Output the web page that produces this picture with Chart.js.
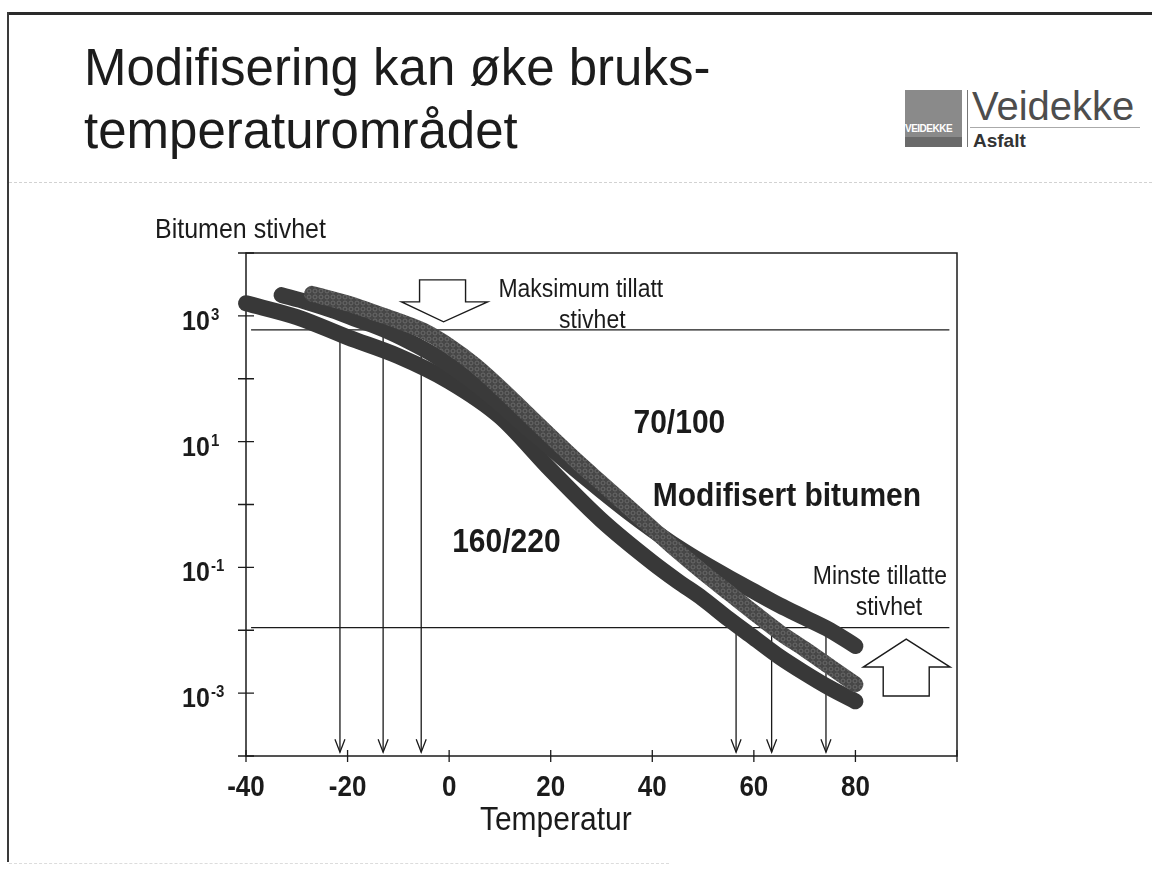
<!DOCTYPE html>
<html>
<head>
<meta charset="utf-8">
<script src="https://cdn.jsdelivr.net/npm/chart.js@4.4.1/dist/chart.umd.min.js"></script>
<style>
  html, body { margin: 0; padding: 0; background: #fff; }
  body { width: 1152px; height: 875px; position: relative; overflow: hidden;
         font-family: "Liberation Sans", Arial, sans-serif; }
  #frameTop  { position: absolute; left: 7px; top: 12px; width: 1145px; height: 3px; background: #2a2a2a; }
  #frameLeft { position: absolute; left: 7px; top: 12px; width: 2px; height: 850px; background: #3a3a3a; }
  #sep       { position: absolute; left: 9px; top: 182px; width: 1143px; border-top: 1px dashed #d2d2d2; }
  #foot      { position: absolute; left: 9px; top: 863px; width: 660px; border-top: 1px dashed #dcdcdc; }
  #title     { position: absolute; left: 84px; top: 36px; font-size: 51px; line-height: 63px; color: #1c1c1c; }
  #logoBlock { position: absolute; left: 905px; top: 90px; width: 57px; height: 57px; background: #8a8a8a; overflow: hidden; }
  #logoBlock .word  { position: absolute; left: 0; top: 33px; width: 57px; font: bold 10px "Liberation Sans Narrow", "Liberation Sans", sans-serif; color: #fff; letter-spacing: -0.5px; }
  #logoBlock .strip { position: absolute; left: 0; top: 47px; width: 57px; height: 10px; background: #6a6a6a; }
  #logoBar   { position: absolute; left: 967px; top: 90px; width: 1px; height: 57px; background: #777; }
  #logoName  { position: absolute; left: 972px; top: 82px; font-size: 40px; line-height: 48px; color: #4d4d4d; }
  #logoRule  { position: absolute; left: 970px; top: 127px; width: 170px; height: 1px; background: #aaa; }
  #logoSub   { position: absolute; left: 973px; top: 130px; font-size: 19px; font-weight: bold; line-height: 22px; color: #333; }
  #chart     { position: absolute; left: 0; top: 0; }
</style>
</head>
<body>
<div id="frameTop"></div>
<div id="frameLeft"></div>
<div id="sep"></div>
<div id="foot"></div>
<div id="title">Modifisering kan øke bruks-<br>temperaturområdet</div>
<div id="logoBlock"><div class="word">VEIDEKKE</div><div class="strip"></div></div>
<div id="logoBar"></div>
<div id="logoName">Veidekke</div>
<div id="logoRule"></div>
<div id="logoSub">Asfalt</div>
<canvas id="chart" width="1152" height="875"></canvas>

<script>
'use strict';

// 160/220 (log10 av stivhet)
const temp160 = [-40, -30, -20, -10, 0, 10, 20, 30, 40, 45, 50, 55, 60, 65, 70, 75, 80];
const log160  = [3.20, 2.98, 2.66, 2.36, 1.96, 1.40, 0.55, -0.25, -0.92, -1.22, -1.50, -1.82, -2.12, -2.42, -2.68, -2.92, -3.13];

// Modifisert bitumen
const tempMod = [-33, -28, -23, -18, -13, -8, -3, 0, 5, 10, 15, 20, 25, 30, 35, 40, 45, 50, 55, 60, 65, 70, 75, 80];
const logMod  = [3.33, 3.22, 3.09, 2.94, 2.79, 2.60, 2.38, 2.22, 1.93, 1.60, 1.24, 0.90, 0.55, 0.22, -0.10, -0.40, -0.68, -0.93, -1.16, -1.38, -1.60, -1.80, -2.00, -2.25];

// 70/100
const temp70 = [-27, -20, -15, -10, -5, 0, 5, 10, 15, 20, 25, 30, 35, 40, 45, 50, 55, 60, 65, 70, 75, 80];
const log70  = [3.35, 3.20, 3.06, 2.92, 2.76, 2.52, 2.22, 1.86, 1.47, 1.08, 0.70, 0.34, -0.02, -0.38, -0.74, -1.08, -1.40, -1.72, -2.03, -2.30, -2.58, -2.86];

// grenser
const maxStiff  = 600;
const minStiff  = 0.011;
const limitSpan = [-39, 98.5];
const arrowEnd  = 1.15e-4;
const maxArrowTemps = [-21.5, -13, -5.5];
const minArrowTemps = [56.5, 63.5, 74.2];

// akser
const xTicks  = [-40, -20, 0, 20, 40, 60, 80, 100];
const xLabels = [-40, -20, 0, 20, 40, 60, 80];
const yTickExp  = [-4, -3, -2, -1, 0, 1, 2, 3, 4];
const yLabelExp = [3, 1, -1, -3];

const INK = '#1b1b1b';
const STRETCH = 1.1;   // skannet tekst er litt høyere enn vanlig

// tekstur for 70/100-kurven
function ringPattern() {
  const c = document.createElement('canvas');
  c.width = 6; c.height = 6;
  const g = c.getContext('2d');
  g.fillStyle = '#474747';
  g.fillRect(0, 0, 6, 6);
  g.strokeStyle = '#6a6a6a';
  g.lineWidth = 1;
  g.beginPath();
  g.arc(3, 3, 2, 0, Math.PI * 2);
  g.stroke();
  return g.createPattern(c, 'repeat');
}

function curve(label, temps, logs, color, order) {
  return {
    label,
    data: temps.map((t, i) => ({ x: t, y: 10 ** logs[i] })),
    borderColor: color,
    borderWidth: 16,
    borderCapStyle: 'round',
    borderJoinStyle: 'round',
    pointRadius: 0,
    cubicInterpolationMode: 'monotone',
    clip: false,
    order
  };
}

function thin(label, pts) {
  return {
    label,
    data: pts,
    borderColor: INK,
    borderWidth: 1.3,
    pointRadius: 0,
    tension: 0,
    clip: false,
    order: 10
  };
}

const datasets = [
  curve('70/100', temp70, log70, ringPattern(), 0),
  curve('Modifisert bitumen', tempMod, logMod, '#3a3a3a', 1),
  curve('160/220', temp160, log160, '#383838', 2),
  thin('Maksimum tillatt stivhet', limitSpan.map(t => ({ x: t, y: maxStiff }))),
  thin('Minste tillatte stivhet', limitSpan.map(t => ({ x: t, y: minStiff }))),
  ...maxArrowTemps.map(t => thin('pil', [{ x: t, y: maxStiff }, { x: t, y: arrowEnd }])),
  ...minArrowTemps.map(t => thin('pil', [{ x: t, y: minStiff }, { x: t, y: arrowEnd }]))
];

function text(ctx, str, x, y, font, align) {
  ctx.save();
  ctx.font = font;
  ctx.textAlign = align || 'left';
  ctx.textBaseline = 'alphabetic';
  ctx.translate(x, y);
  ctx.scale(1, STRETCH);
  ctx.fillText(str, 0, 0);
  ctx.restore();
}

function poly(ctx, pts) {
  ctx.beginPath();
  pts.forEach((p, i) => i ? ctx.lineTo(p[0], p[1]) : ctx.moveTo(p[0], p[1]));
  ctx.closePath();
  ctx.fillStyle = '#fff';
  ctx.fill();
  ctx.stroke();
}

const decor = {
  id: 'decor',
  beforeDatasetsDraw(chart) {
    const { ctx, chartArea: a, scales: { x, y } } = chart;
    const px = v => x.getPixelForValue(v);
    const py = e => y.getPixelForValue(10 ** e);
    ctx.save();
    ctx.strokeStyle = INK;
    ctx.fillStyle = INK;

    // ramme
    ctx.lineWidth = 1.5;
    ctx.strokeRect(a.left, a.top, a.right - a.left, a.bottom - a.top);

    // tick-merker
    ctx.lineWidth = 1.3;
    ctx.beginPath();
    yTickExp.forEach(e => { ctx.moveTo(a.left - 8, py(e)); ctx.lineTo(a.left + 8, py(e)); });
    xTicks.forEach(t => { ctx.moveTo(px(t), a.bottom - 6); ctx.lineTo(px(t), a.bottom + 6); });
    ctx.stroke();

    // tick-tekst
    xLabels.forEach(t => text(ctx, String(t), px(t), a.bottom + 40, 'bold 26px "Liberation Sans", Arial', 'center'));
    yLabelExp.forEach(e => {
      text(ctx, '10', a.left - 64, py(e) + 14, 'bold 25px "Liberation Sans", Arial');
      text(ctx, String(e), a.left - 35, py(e) + 4, 'bold 15px "Liberation Sans", Arial');
    });

    // aksetitler
    text(ctx, 'Bitumen stivhet', a.left - 91, a.top - 15, '25px "Liberation Sans", Arial');
    text(ctx, 'Temperatur', px(21), a.bottom + 74, '30px "Liberation Sans", Arial', 'center');

    // merkelapper
    const reg = '23px "Liberation Sans", Arial';
    const bold = 'bold 30px "Liberation Sans", Arial';
    text(ctx, 'Maksimum tillatt', px(9.7), py(3.30), reg);
    text(ctx, 'stivhet', px(28.2), py(2.81), reg, 'center');
    text(ctx, '70/100', px(36.3), py(1.14), bold);
    text(ctx, 'Modifisert bitumen', px(40.1), py(-0.03), bold);
    text(ctx, '160/220', px(0.6), py(-0.75), bold);
    text(ctx, 'Minste tillatte', px(71.6), py(-1.27), reg);
    text(ctx, 'stivhet', px(86.6), py(-1.75), reg, 'center');

    // store hule piler
    ctx.lineWidth = 1.4;
    const dx = px(-1.1), dTip = py(2.905);
    poly(ctx, [[dx - 24, dTip - 42], [dx + 22, dTip - 42], [dx + 22, dTip - 20], [dx + 44, dTip - 20],
               [dx, dTip], [dx - 42, dTip - 20], [dx - 24, dTip - 20]]);
    const ux = px(90), uTip = py(-2.14);
    poly(ctx, [[ux - 23, uTip + 57], [ux + 23, uTip + 57], [ux + 23, uTip + 28], [ux + 44, uTip + 28],
               [ux, uTip], [ux - 43, uTip + 28], [ux - 23, uTip + 28]]);
    ctx.restore();
  },
  afterDatasetsDraw(chart) {
    const { ctx, scales: { x, y } } = chart;
    const tipY = y.getPixelForValue(arrowEnd);
    ctx.save();
    ctx.strokeStyle = INK;
    ctx.lineWidth = 1.3;
    ctx.beginPath();
    [...maxArrowTemps, ...minArrowTemps].forEach(t => {
      const p = x.getPixelForValue(t);
      ctx.moveTo(p - 5, tipY - 13);
      ctx.lineTo(p, tipY);
      ctx.lineTo(p + 5, tipY - 13);
    });
    ctx.stroke();
    ctx.restore();
  }
};

new Chart(document.getElementById('chart'), {
  type: 'line',
  data: { datasets },
  options: {
    responsive: false,
    devicePixelRatio: 1,
    animation: false,
    layout: { padding: { left: 246, top: 253, right: 195, bottom: 119 } },
    scales: {
      x: { type: 'linear', min: -40, max: 100, display: false },
      y: { type: 'logarithmic', min: 1e-4, max: 1e4, display: false }
    },
    plugins: { legend: { display: false }, tooltip: { enabled: false } }
  },
  plugins: [decor]
});
</script>
</body>
</html>
